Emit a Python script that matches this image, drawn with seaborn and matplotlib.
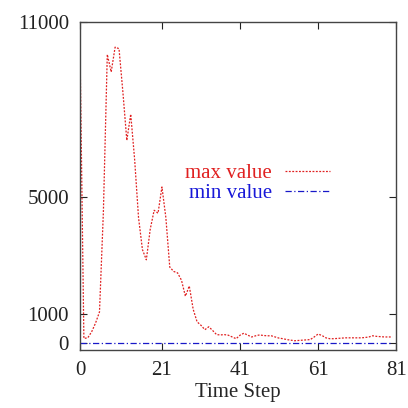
import matplotlib
matplotlib.use("Agg")
import matplotlib.pyplot as plt
import pandas as pd
import seaborn as sns

# valores
pasos = [0, 1, 2, 3, 4, 5, 6, 7, 8, 9, 10, 11, 12, 13, 14, 15, 16, 17, 18, 19,
         20, 21, 22, 23, 24, 25, 26, 27, 28, 29, 30, 31, 32, 33, 34, 35, 36, 37,
         38, 39, 40, 41, 42, 43, 44, 45, 46, 47, 48, 49, 50, 51, 52, 53, 54, 55,
         56, 57, 58, 59, 60, 61, 62, 63, 64, 65, 66, 67, 68, 69, 70, 71, 72, 73,
         74, 75, 76, 77, 78, 79, 80]
max_value = [10200, 150, 170, 380, 680, 1060, 4500, 9900, 9300, 10150, 10100,
             8600, 6950, 7850, 6300, 4300, 3200, 2850, 3900, 4550, 4450, 5350,
             4300, 2600, 2450, 2400, 2150, 1600, 1950, 1150, 720, 600, 450, 550,
             420, 280, 270, 280, 260, 200, 140, 260, 330, 260, 200, 240, 270, 250,
             240, 240, 200, 160, 140, 110, 90, 70, 80, 90, 100, 110, 200, 300,
             250, 170, 140, 140, 150, 160, 170, 170, 170, 170, 170, 180, 200, 240,
             220, 210, 200, 200, 200]
min_value = [0] * len(pasos)

df = pd.DataFrame({"paso": pasos, "max": max_value, "min": min_value})

sns.set_style("ticks")
plt.rcParams["font.family"] = ["Liberation Serif", "DejaVu Serif"]

fig = plt.figure(figsize=(4.08, 4.08), dpi=100)
ax = fig.add_axes([0.196, 0.142, 0.775, 0.803])

sns.lineplot(data=df, x="paso", y="max", ax=ax, color="#e02020",
             linestyle=(0, (1.5, 1.2)), linewidth=0.9, label="max value")
sns.lineplot(data=df, x="paso", y="min", ax=ax, color="#1818c8",
             linestyle=(0, (5, 2, 1, 2)), linewidth=0.9, label="min value")

ax.set_xlim(0, 81)
ax.set_ylim(-250, 11000)
ax.set_xticks([0, 21, 41, 61, 81])
ax.set_yticks([0, 1000, 5000, 11000])
ax.tick_params(direction="in", length=5, width=0.8, labelsize=15, pad=8,
               top=True, right=True, colors="#222222")
for s in ax.spines.values():
    s.set_linewidth(1.0)
    s.set_color("#444444")
ax.set_xlabel("Time Step", fontsize=15, labelpad=2)
ax.set_ylabel("")

leg = ax.legend(loc="upper right", bbox_to_anchor=(0.825, 0.6), frameon=False,
                markerfirst=False, fontsize=15, handlelength=2.2,
                handletextpad=0.6, labelspacing=0.0, borderpad=0,
                labelcolor=["#e02020", "#1818d8"])

fig.savefig("out.png", dpi=100)
